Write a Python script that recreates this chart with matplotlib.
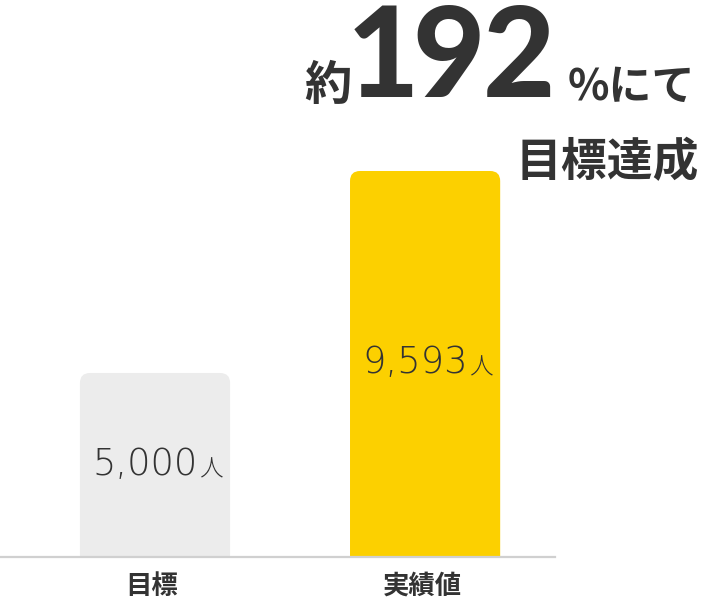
import matplotlib
matplotlib.use("Agg")
import matplotlib.pyplot as plt
from matplotlib.patches import FancyBboxPatch

categories = ["目標", "実績値"]
values = [5000, 9593]
value_labels = ["5,000", "9,593"]
unit = "人"
colors = ["#ececec", "#fcd000"]
title_prefix = "約"
title_number = "192"
title_suffix = "%にて"
title_line2 = "目標達成"

W, H = 703, 611
fig = plt.figure(figsize=(W / 100, H / 100), dpi=100)
fig.patch.set_facecolor("white")

def fx(px):
    return px / W

def fy(py):
    return 1 - py / H

# axes: left 0px, right 555px, bottom 557px, top 0px
ax = fig.add_axes([0, fy(557), fx(555), 557 / H])
ax.set_xlim(-0.574, 1.481)
ax.set_ylim(816, 13481)
ax.axis("off")

bw = 0.556
bars = ax.bar(range(len(values)), values, width=bw, color=colors)
px_per_x = 555 / (1.481 + 0.574)
px_per_y = 557 / (13481 - 816)
r_px = 10
for b, c in zip(bars, colors):
    b.set_visible(False)
    p = FancyBboxPatch((b.get_x(), 0), b.get_width(), b.get_height(),
                       boxstyle=f"round,pad=0,rounding_size={r_px / px_per_x}",
                       mutation_aspect=px_per_x / px_per_y,
                       facecolor=c, edgecolor="none", zorder=2)
    ax.add_patch(p)

# baseline
ax.axhline(816, color="#d0d0d0", lw=1.6, zorder=3, clip_on=False)

CJK = ["Noto Sans CJK JP", "DejaVu Sans"]
NUMF = ["DejaVu Sans"]
PT = 0.72  # points per pixel

# value labels inside bars
label_y_px = [475, 373]
for i, (lab, ypx) in enumerate(zip(value_labels, label_y_px)):
    ax.annotate(lab, xy=(i, 0), xycoords=("data", "axes fraction"),
                xytext=(43 * PT, (557 - ypx) * PT), textcoords="offset points",
                ha="right", va="baseline", fontsize=26.5, color="#333333",
                family=NUMF, fontweight="light", zorder=4)
    ax.annotate(unit, xy=(i, 0), xycoords=("data", "axes fraction"),
                xytext=(44 * PT, (557 - ypx - 1) * PT), textcoords="offset points",
                ha="left", va="baseline", fontsize=17, color="#333333",
                family=CJK, fontweight="light", zorder=4)

# category labels
for i, cat in enumerate(categories):
    ax.annotate(cat, xy=(i, 0), xycoords=("data", "axes fraction"),
                xytext=(-3 * PT, -29 * PT), textcoords="offset points",
                ha="center", va="center", fontsize=19, fontweight="bold",
                color="#333333", family=CJK, annotation_clip=False)

# title
fig.text(fx(304), fy(100), title_prefix, fontsize=34, fontweight="bold",
         color="#333333", family=CJK, ha="left", va="baseline")
digit_centers = [383, 449, 519]
for d, cx in zip(title_number, digit_centers):
    fig.text(fx(cx), fy(97), d, fontsize=90, fontweight="black",
             color="#333333", family=["Lato", "DejaVu Sans"],
             ha="center", va="baseline")
fig.text(fx(695), fy(100), title_suffix, fontsize=31, fontweight="bold",
         color="#333333", family=CJK, ha="right", va="baseline")
fig.text(fx(699), fy(176), title_line2, fontsize=33, fontweight="bold",
         color="#333333", family=CJK, ha="right", va="baseline")

fig.savefig("out.png", dpi=100, facecolor="white")
